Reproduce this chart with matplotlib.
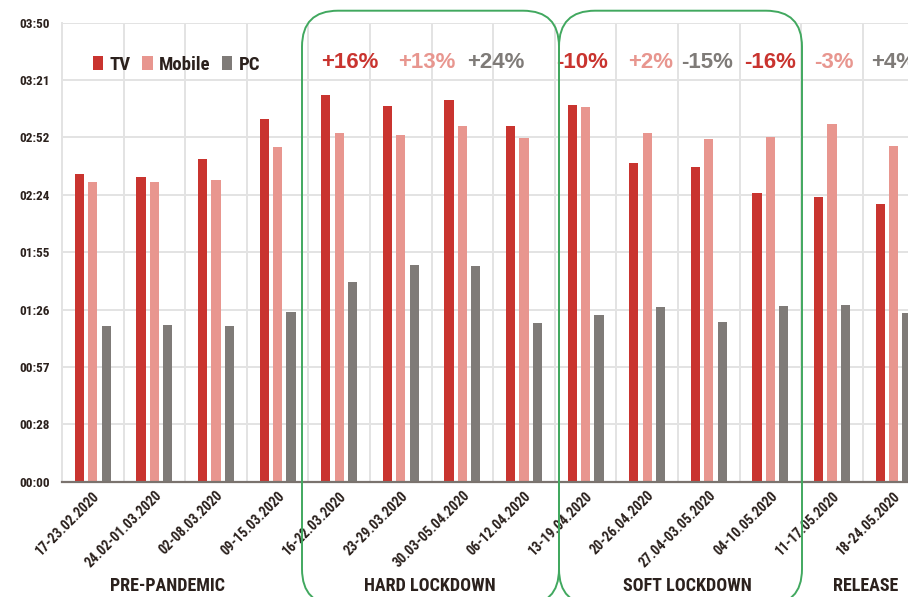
import matplotlib
matplotlib.use('Agg')
import matplotlib.pyplot as plt
from matplotlib import font_manager
from matplotlib.patches import FancyBboxPatch, Patch
from matplotlib.ticker import FixedLocator, FuncFormatter
from matplotlib.transforms import IdentityTransform, blended_transform_factory
import numpy as np

# weekly average viewing time per device, in minutes
weeks = ['17-23.02.2020', '24.02-01.03.2020', '02-08.03.2020', '09-15.03.2020',
         '16-22.03.2020', '23-29.03.2020', '30.03-05.04.2020', '06-12.04.2020',
         '13-19.04.2020', '20-26.04.2020', '27.04-03.05.2020', '04-10.05.2020',
         '11-17.05.2020', '18-24.05.2020']
tv = [154.6, 152.9, 162.0, 182.1, 194.1, 188.6, 191.6, 178.7,
      189.1, 160.0, 158.0, 144.8, 142.9, 139.4]
mobile = [150.6, 150.6, 151.3, 168.0, 175.0, 174.0, 178.7, 172.7,
          187.9, 175.0, 172.0, 173.2, 179.4, 168.7]
pc = [78.2, 78.7, 78.2, 85.0, 100.1, 108.6, 108.3, 79.5,
      83.9, 87.5, 80.0, 88.0, 88.5, 84.8]

series_names = ['TV', 'Mobile', 'PC']
series_colors = ['#C9342F', '#E8968F', '#7F7B78']

# period-over-period changes printed above the bars
change_labels = ['+16%', '+13%', '+24%', '-10%', '+2%', '-15%', '-16%', '-3%', '+4%']
change_series = [0, 1, 2, 0, 1, 2, 0, 1, 2]
change_x = [4.17, 5.42, 6.55, 7.95, 9.06, 9.97, 11.0, 12.03, 13.0]

periods = ['PRE-PANDEMIC', 'HARD LOCKDOWN', 'SOFT LOCKDOWN', 'RELEASE']
period_x = [1.22, 5.47, 9.66, 12.54]

TEXT = '#2B211D'
GRID = '#E3E3E3'
GREEN = '#41A85F'


def pick_font(candidates):
    '''Return the first installed family from candidates.'''
    for name in candidates:
        try:
            font_manager.findfont(name, fallback_to_default=False)
            return name
        except Exception:
            pass
    return 'DejaVu Sans'


narrow = pick_font(['Liberation Sans Narrow', 'Roboto Condensed', 'Liberation Sans'])
plain = pick_font(['Liberation Sans', 'Arial'])


def fmt_time(v, pos=None):
    '''Minutes -> hh:mm, seconds dropped.'''
    secs = int(round(v * 60))
    mins = secs // 60
    return '{:02d}:{:02d}'.format(mins // 60, mins % 60)


fig = plt.figure(figsize=(9.08, 5.97), dpi=100)
ax = fig.add_axes([62 / 908, 1 - 481.7 / 597, 862.4 / 908, 459 / 597])

x = np.arange(len(weeks))
width = 0.15
offset = 0.218
for i, (vals, name, color) in enumerate(zip([tv, mobile, pc], series_names, series_colors)):
    ax.bar(x + (i - 1) * offset, vals, width, color=color, label=name, zorder=3)

ax.set_xlim(-0.5, len(weeks) - 0.5)
ax.set_ylim(0, 230.4)
ax.yaxis.set_major_locator(FixedLocator([28.8 * k for k in range(9)]))
ax.yaxis.set_major_formatter(FuncFormatter(fmt_time))
ax.set_xticks(x)
ax.set_xticks(np.arange(-0.5, len(weeks), 1.0), minor=True)
ax.set_xticklabels(weeks, rotation=45, ha='right', rotation_mode='anchor',
                   fontfamily=narrow, fontweight='bold', fontsize=10, color=TEXT)
for lab in ax.get_yticklabels():
    lab.set_fontfamily(narrow)
    lab.set_fontweight('bold')
    lab.set_fontsize(9.5)
    lab.set_color(TEXT)

ax.tick_params(axis='both', which='both', length=0)
ax.tick_params(axis='y', pad=9)
ax.tick_params(axis='x', pad=5)
ax.grid(axis='y', which='major', color=GRID, linewidth=1.4, zorder=0)
ax.grid(axis='x', which='minor', color=GRID, linewidth=1.4, zorder=0)
for side in ['top', 'right']:
    ax.spines[side].set_visible(False)
ax.spines['left'].set_color(GRID)
ax.spines['left'].set_linewidth(1.4)
ax.spines['bottom'].set_color('#7A736E')
ax.spines['bottom'].set_linewidth(1.6)
ax.spines['bottom'].set_zorder(4)

handles = [Patch(facecolor=c, label=n) for n, c in zip(series_names, series_colors)]
leg = ax.legend(handles=handles, ncol=3, frameon=False, loc='upper left',
                bbox_to_anchor=(31 / 862.4, 1 - 33 / 459),
                borderaxespad=0, borderpad=0,
                handlelength=0.55, handleheight=0.75, handletextpad=0.35,
                columnspacing=0.6, prop={'family': narrow, 'weight': 'bold', 'size': 13.5})
for t in leg.get_texts():
    t.set_color(TEXT)

for lab, s, cx in zip(change_labels, change_series, change_x):
    ax.text(cx, 210.2, lab, ha='center', va='center', color=series_colors[s],
            fontfamily=plain, fontweight='bold', fontsize=16, zorder=5)

# period labels sit at a fixed height near the bottom of the figure
blend = blended_transform_factory(ax.transData, fig.transFigure)
for lab, cx in zip(periods, period_x):
    ax.text(cx, 11 / 597, lab, transform=blend, ha='center', va='center',
            fontfamily=narrow, fontweight='bold', fontsize=13, color=TEXT, clip_on=False)

# rounded frames around the two lockdown periods (pixel coordinates)
for x0, x1 in [(302, 559), (559, 802)]:
    box = FancyBboxPatch((x0, -8), x1 - x0, 597 - 10.7 + 8,
                         boxstyle='round,pad=0,rounding_size=36',
                         transform=IdentityTransform(),
                         facecolor='none', edgecolor=GREEN, linewidth=1.4,
                         zorder=6, clip_on=False)
    fig.add_artist(box)

fig.savefig('out.png', dpi=100)
